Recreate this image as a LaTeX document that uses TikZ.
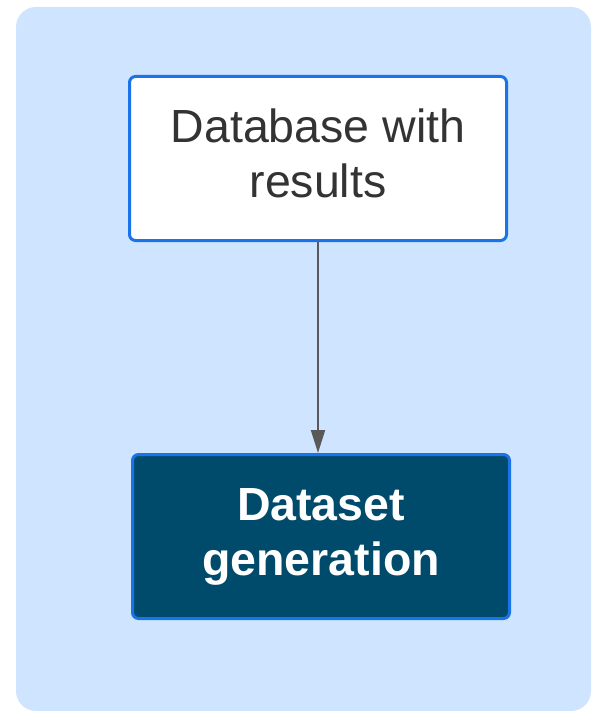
\documentclass[tikz,border=0pt]{standalone}
\usepackage{fontspec}
\setmainfont{Liberation Sans}
\usetikzlibrary{arrows.meta}
\definecolor{panelblue}{HTML}{CFE4FE}
\definecolor{edgeblue}{HTML}{1A73E8}
\definecolor{deepteal}{HTML}{004B6B}
\definecolor{darktext}{HTML}{333333}
\definecolor{linkgray}{HTML}{595959}
\begin{document}
\begin{tikzpicture}[x=1pt,y=-1pt,
  stagebox/.style={draw=edgeblue,line width=3pt,rounded corners=6pt,
    minimum width=377pt,minimum height=164pt,align=center,
    font=\fontsize{46.5}{55}\selectfont},
  link/.style={draw=linkgray,line width=2pt,-{Triangle[width=14pt,length=23pt]}}]
 \useasboundingbox (0,0) rectangle (595,711);
 \fill[panelblue,rounded corners=20pt] (16,7) rectangle (591,711);
 \node (results) at (318,158.5) [stagebox,fill=white,text=darktext]
   {Database with\\results\rule[-11pt]{0pt}{0pt}};
 \node (datagen) at (321,536.5) [stagebox,fill=deepteal,text=white]
   {\bfseries Dataset\\\bfseries generation};
 \draw[link] (results.south) -- (results.south |- datagen.north);
\end{tikzpicture}
\end{document}
